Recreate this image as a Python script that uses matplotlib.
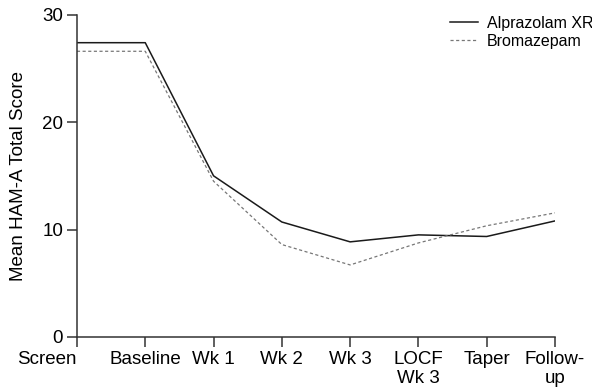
import matplotlib
matplotlib.use("Agg")
import matplotlib.pyplot as plt

plt.rcParams['font.family'] = ['Liberation Sans', 'DejaVu Sans']

visits = ["Screen", "Baseline", "Wk 1", "Wk 2", "Wk 3", "LOCF\nWk 3", "Taper", "Follow-\nup"]
alprazolam = [27.4, 27.4, 15.0, 10.7, 8.85, 9.5, 9.35, 10.8]
bromazepam = [26.6, 26.6, 14.5, 8.6, 6.7, 8.75, 10.35, 11.55]

fig = plt.figure(figsize=(5.92, 3.89), dpi=100)
ax = fig.add_axes([0.130, 0.134, 0.8075, 0.828])

x = list(range(len(visits)))
ax.plot(x, alprazolam, color="#1a1a1a", lw=1.1, label="Alprazolam XR")
ax.plot(x, bromazepam, color="#777777", lw=0.9, ls=(0, (2.5, 2)), label="Bromazepam")

ax.set_xlim(0, 7)
ax.set_ylim(0, 30)
ax.set_yticks([0, 10, 20, 30])
ax.set_xticks(x)
ax.set_xticklabels(visits, fontsize=13.5, linespacing=1.2)
ax.get_xticklabels()[0].set_ha("right")
ax.tick_params(axis="both", direction="out", length=7, width=1.1, color="#333333", labelsize=13.5, pad=3)
ax.set_ylabel("Mean HAM-A Total Score", fontsize=13.5, labelpad=11)

for s in ["top", "right"]:
    ax.spines[s].set_visible(False)
for s in ["left", "bottom"]:
    ax.spines[s].set_color("#333333")
    ax.spines[s].set_linewidth(1.1)

ax.legend(loc="upper left", bbox_to_anchor=(0.760, 0.960), bbox_transform=fig.transFigure,
          frameon=False, fontsize=11.5, handlelength=1.75, handletextpad=0.55,
          labelspacing=0.2, borderpad=0, borderaxespad=0)

fig.savefig("out.png", dpi=100)
